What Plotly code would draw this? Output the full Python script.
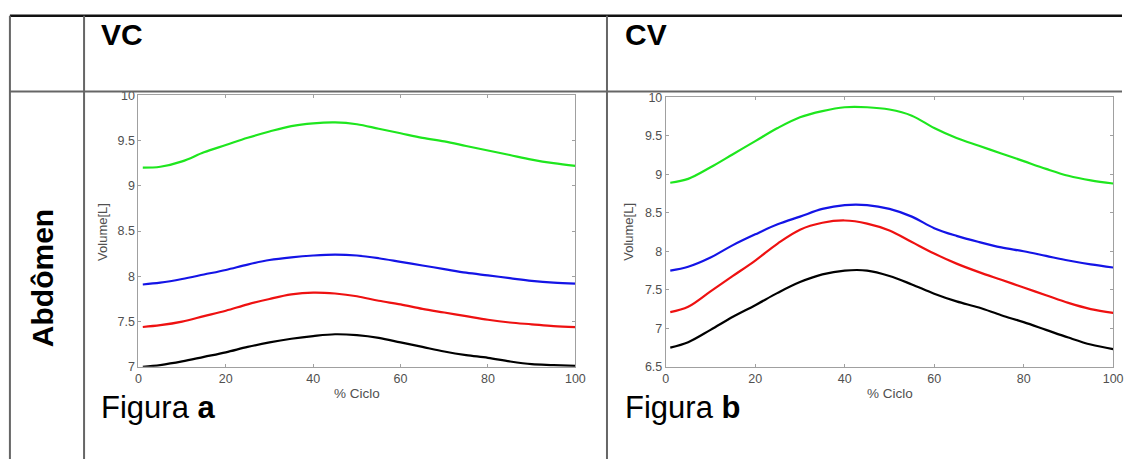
import plotly.graph_objects as go

W, H = 1132, 466

x_pct = [1, 5, 10, 15, 20, 25, 30, 35, 40, 45, 50, 55, 60, 65, 70, 75, 80, 85, 90, 95, 100]

# Figura a (VC)
a_green = [9.20, 9.21, 9.27, 9.37, 9.45, 9.53, 9.60, 9.66, 9.69, 9.70, 9.68, 9.63, 9.58, 9.53, 9.49, 9.44, 9.39, 9.34, 9.29, 9.25, 9.22]
a_blue = [7.91, 7.93, 7.97, 8.02, 8.07, 8.13, 8.18, 8.21, 8.23, 8.24, 8.23, 8.20, 8.16, 8.12, 8.08, 8.04, 8.01, 7.98, 7.95, 7.93, 7.92]
a_red = [7.44, 7.46, 7.50, 7.56, 7.62, 7.69, 7.75, 7.80, 7.82, 7.81, 7.78, 7.73, 7.69, 7.64, 7.60, 7.56, 7.52, 7.49, 7.47, 7.45, 7.44]
a_black = [7.00, 7.02, 7.06, 7.11, 7.16, 7.22, 7.27, 7.31, 7.34, 7.36, 7.35, 7.32, 7.27, 7.22, 7.17, 7.13, 7.10, 7.06, 7.03, 7.02, 7.01]

# Figura b (CV)
b_green = [8.89, 8.94, 9.09, 9.26, 9.43, 9.60, 9.74, 9.82, 9.87, 9.87, 9.84, 9.76, 9.60, 9.47, 9.37, 9.27, 9.17, 9.07, 8.98, 8.92, 8.88]
b_blue = [7.75, 7.80, 7.92, 8.08, 8.22, 8.35, 8.45, 8.55, 8.60, 8.60, 8.55, 8.45, 8.30, 8.20, 8.12, 8.05, 8.00, 7.94, 7.88, 7.83, 7.79]
b_red = [7.21, 7.28, 7.48, 7.68, 7.88, 8.10, 8.28, 8.37, 8.40, 8.36, 8.27, 8.12, 7.97, 7.84, 7.73, 7.63, 7.53, 7.43, 7.33, 7.25, 7.20]
b_black = [6.75, 6.82, 6.98, 7.15, 7.30, 7.46, 7.60, 7.70, 7.75, 7.75, 7.68, 7.57, 7.45, 7.35, 7.27, 7.17, 7.08, 6.98, 6.88, 6.79, 6.73]

x_ticks = [0, 20, 40, 60, 80, 100]
a_yticks = [7, 7.5, 8, 8.5, 9, 9.5, 10]
b_yticks = [6.5, 7, 7.5, 8, 8.5, 9, 9.5, 10]

col_titles = ["VC", "CV"]
row_title = "Abdômen"
fig_labels = ["Figura <b>a</b>", "Figura <b>b</b>"]
y_title = "Volume[L]"
x_title = "% Ciclo"

colors = {"green": "#1ee61e", "blue": "#1414e6", "red": "#ee1111", "black": "#000000"}

def px(x):
    return x / W

def py(y):
    return 1 - y / H

fig = go.Figure()
for name, ys in [("green", a_green), ("blue", a_blue), ("red", a_red), ("black", a_black)]:
    fig.add_trace(go.Scatter(x=x_pct, y=ys, mode="lines", line=dict(color=colors[name], width=2.2, shape="spline"),
                             xaxis="x", yaxis="y", showlegend=False, hoverinfo="skip"))
for name, ys in [("green", b_green), ("blue", b_blue), ("red", b_red), ("black", b_black)]:
    fig.add_trace(go.Scatter(x=x_pct, y=ys, mode="lines", line=dict(color=colors[name], width=2.2, shape="spline"),
                             xaxis="x2", yaxis="y2", showlegend=False, hoverinfo="skip"))

axis_common = dict(showgrid=False, zeroline=False, showline=True, linecolor="#a0a0a0", linewidth=1,
                   mirror="ticks", ticks="inside", ticklen=3, tickcolor="#a0a0a0",
                   tickfont=dict(family="Liberation Sans, Arial", size=12.5, color="#505050"))

fig.update_layout(
    width=W, height=H, margin=dict(l=0, r=0, t=0, b=0),
    paper_bgcolor="white", plot_bgcolor="white",
    xaxis=dict(domain=[px(137), px(579)], range=[0, 100], tickvals=x_ticks, anchor="y", **axis_common),
    yaxis=dict(domain=[py(371), py(91)], range=[7, 10], tickvals=a_yticks, anchor="x", **axis_common),
    xaxis2=dict(domain=[px(670.5), px(1123)], range=[0, 100], tickvals=x_ticks, anchor="y2", **axis_common),
    yaxis2=dict(domain=[py(371), py(93)], range=[6.5, 10], tickvals=b_yticks, anchor="x2", **axis_common),
)

shapes = []
def hline(y, x0, x1, color, w):
    shapes.append(dict(type="line", xref="paper", yref="paper", x0=px(x0), x1=px(x1), y0=py(y), y1=py(y),
                       line=dict(color=color, width=w)))
def vline(x, y0, y1, color, w):
    shapes.append(dict(type="line", xref="paper", yref="paper", x0=px(x), x1=px(x), y0=py(y0), y1=py(y1),
                       line=dict(color=color, width=w)))

hline(9, 7, W, "#111111", 2.5)
hline(87, 7, W, "#666666", 2)
vline(7, 9, H, "#666666", 2)
vline(82, 9, H, "#666666", 2)
vline(611, 9, H, "#666666", 2)
fig.update_layout(shapes=shapes)

font_main = "Liberation Sans, Arial"
ann_list = []
for xl, t in [(97, col_titles[0]), (627, col_titles[1])]:
    ann_list.append(dict(text="<b>%s</b>" % t, x=px(xl), y=py(28), xref="paper", yref="paper", showarrow=False,
                         xanchor="left", yanchor="middle", font=dict(family=font_main, size=30, color="black")))
ann_list.append(dict(text="<b>%s</b>" % row_title, x=px(40), y=py(280), xref="paper", yref="paper", textangle=-90,
                     showarrow=False, xanchor="center", yanchor="middle",
                     font=dict(family=font_main, size=30, color="black")))
for xl, lab in [(97, fig_labels[0]), (627, fig_labels[1])]:
    ann_list.append(dict(text=lab, x=px(xl), y=py(413), xref="paper", yref="paper", showarrow=False,
                         xanchor="left", yanchor="middle", font=dict(family=font_main, size=31, color="black")))
for xc in [100, 632]:
    ann_list.append(dict(text=y_title, x=px(xc), y=py(232), xref="paper", yref="paper", showarrow=False,
                         textangle=-90, xanchor="center", yanchor="middle",
                         font=dict(family=font_main, size=13, color="#505050")))
for xc in [358, 897]:
    ann_list.append(dict(text=x_title, x=px(xc), y=py(398), xref="paper", yref="paper", showarrow=False,
                         xanchor="center", yanchor="middle",
                         font=dict(family=font_main, size=13.5, color="#505050")))
fig.update_layout(annotations=ann_list)

fig.write_html("out.html", config={"displayModeBar": False},
               post_script="document.body.style.margin='0';document.body.style.padding='0';"
                           "document.documentElement.style.overflow='hidden';")
